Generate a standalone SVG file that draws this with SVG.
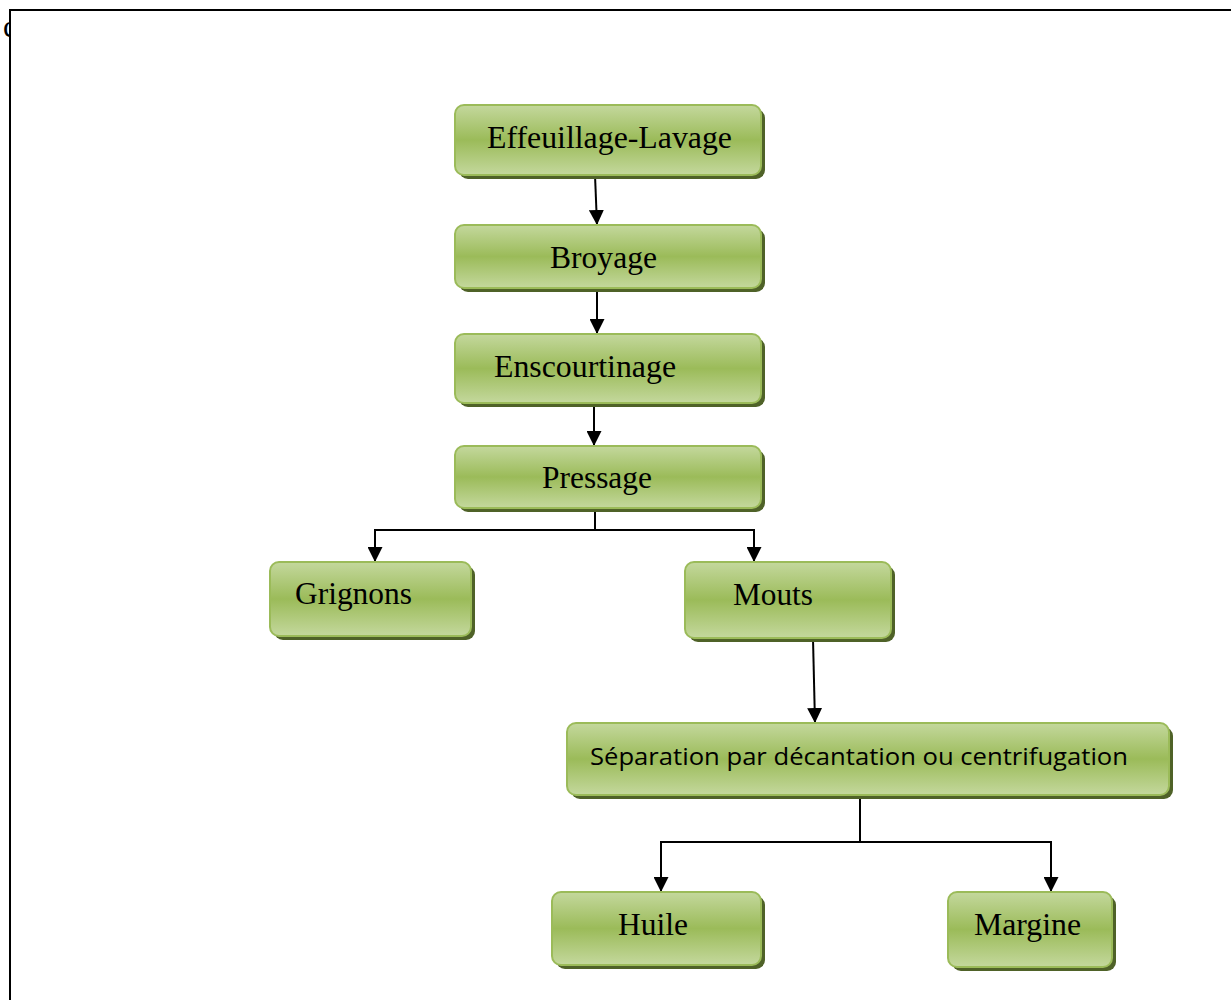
<svg xmlns="http://www.w3.org/2000/svg" width="1231" height="1000" viewBox="0 0 1231 1000">
<defs>
<linearGradient id="g" x1="0" y1="0" x2="0" y2="1">
<stop offset="0" stop-color="#c4d89d"/>
<stop offset="0.5" stop-color="#9bbb59"/>
<stop offset="1" stop-color="#c4d89d"/>
</linearGradient>
<marker id="ah" viewBox="0 0 10 10" refX="10" refY="5" markerWidth="15" markerHeight="15" markerUnits="userSpaceOnUse" orient="auto">
<path d="M0,0 L10,5 L0,10 z" fill="#000"/>
</marker>
<clipPath id="lc"><rect x="0" y="0" width="10" height="60"/></clipPath>
</defs>
<style>
.sh{fill:#4f6228}
.bx{fill:url(#g);stroke:#9bbb59;stroke-width:2}
.t{font-family:"Liberation Serif","Times New Roman",serif;font-size:31px;fill:#000}
.s{font-family:"Open Sans","Liberation Sans",sans-serif;font-size:24px;fill:#000}
.c{fill:none;stroke:#000;stroke-width:2}
</style>
<rect x="0" y="0" width="1231" height="1000" fill="#fff"/>
<path d="M10,1000 L10,10 L1231,10" fill="none" stroke="#000" stroke-width="2"/>
<text x="3" y="37" class="t" clip-path="url(#lc)">c</text>

<g id="connectors">
<line class="c" x1="595" y1="175" x2="597" y2="225" marker-end="url(#ah)"/>
<line class="c" x1="597" y1="289" x2="597" y2="334" marker-end="url(#ah)"/>
<line class="c" x1="594" y1="404" x2="594" y2="446" marker-end="url(#ah)"/>
<path class="c" d="M595,509 L595,530 L375,530 L375,562" marker-end="url(#ah)"/>
<path class="c" d="M595,530 L754,530 L754,562" marker-end="url(#ah)"/>
<line class="c" x1="813" y1="639" x2="815" y2="723" marker-end="url(#ah)"/>
<path class="c" d="M860,796 L860,842 L661,842 L661,892" marker-end="url(#ah)"/>
<path class="c" d="M860,842 L1051,842 L1051,892" marker-end="url(#ah)"/>
</g>

<g id="n1">
<rect class="sh" x="459" y="109" width="306" height="70" rx="9"/>
<rect class="bx" x="455" y="105" width="306" height="70" rx="9"/>
<text class="t" x="487" y="148" textLength="245" lengthAdjust="spacingAndGlyphs">Effeuillage-Lavage</text>
</g>
<g id="n2">
<rect class="sh" x="459" y="229" width="306" height="63" rx="9"/>
<rect class="bx" x="455" y="225" width="306" height="63" rx="9"/>
<text class="t" x="550" y="268" textLength="107" lengthAdjust="spacingAndGlyphs">Broyage</text>
</g>
<g id="n3">
<rect class="sh" x="459" y="338" width="306" height="69" rx="9"/>
<rect class="bx" x="455" y="334" width="306" height="69" rx="9"/>
<text class="t" x="494" y="377" textLength="182" lengthAdjust="spacingAndGlyphs">Enscourtinage</text>
</g>
<g id="n4">
<rect class="sh" x="459" y="450" width="306" height="62" rx="9"/>
<rect class="bx" x="455" y="446" width="306" height="62" rx="9"/>
<text class="t" x="542" y="488" textLength="110" lengthAdjust="spacingAndGlyphs">Pressage</text>
</g>
<g id="n5">
<rect class="sh" x="274" y="566" width="201" height="74" rx="9"/>
<rect class="bx" x="270" y="562" width="201" height="74" rx="9"/>
<text class="t" x="295" y="604" textLength="117" lengthAdjust="spacingAndGlyphs">Grignons</text>
</g>
<g id="n6">
<rect class="sh" x="689" y="566" width="206" height="76" rx="9"/>
<rect class="bx" x="685" y="562" width="206" height="76" rx="9"/>
<text class="t" x="733" y="605" textLength="80" lengthAdjust="spacingAndGlyphs">Mouts</text>
</g>
<g id="n7">
<rect class="sh" x="571" y="727" width="602" height="72" rx="9"/>
<rect class="bx" x="567" y="723" width="602" height="72" rx="9"/>
<text class="s" x="590" y="765" textLength="538" lengthAdjust="spacingAndGlyphs">Séparation par décantation ou centrifugation</text>
</g>
<g id="n8">
<rect class="sh" x="556" y="896" width="209" height="73" rx="9"/>
<rect class="bx" x="552" y="892" width="209" height="73" rx="9"/>
<text class="t" x="618" y="935" textLength="70" lengthAdjust="spacingAndGlyphs">Huile</text>
</g>
<g id="n9">
<rect class="sh" x="952" y="896" width="164" height="75" rx="9"/>
<rect class="bx" x="948" y="892" width="164" height="75" rx="9"/>
<text class="t" x="974" y="935" textLength="107" lengthAdjust="spacingAndGlyphs">Margine</text>
</g>
</svg>
